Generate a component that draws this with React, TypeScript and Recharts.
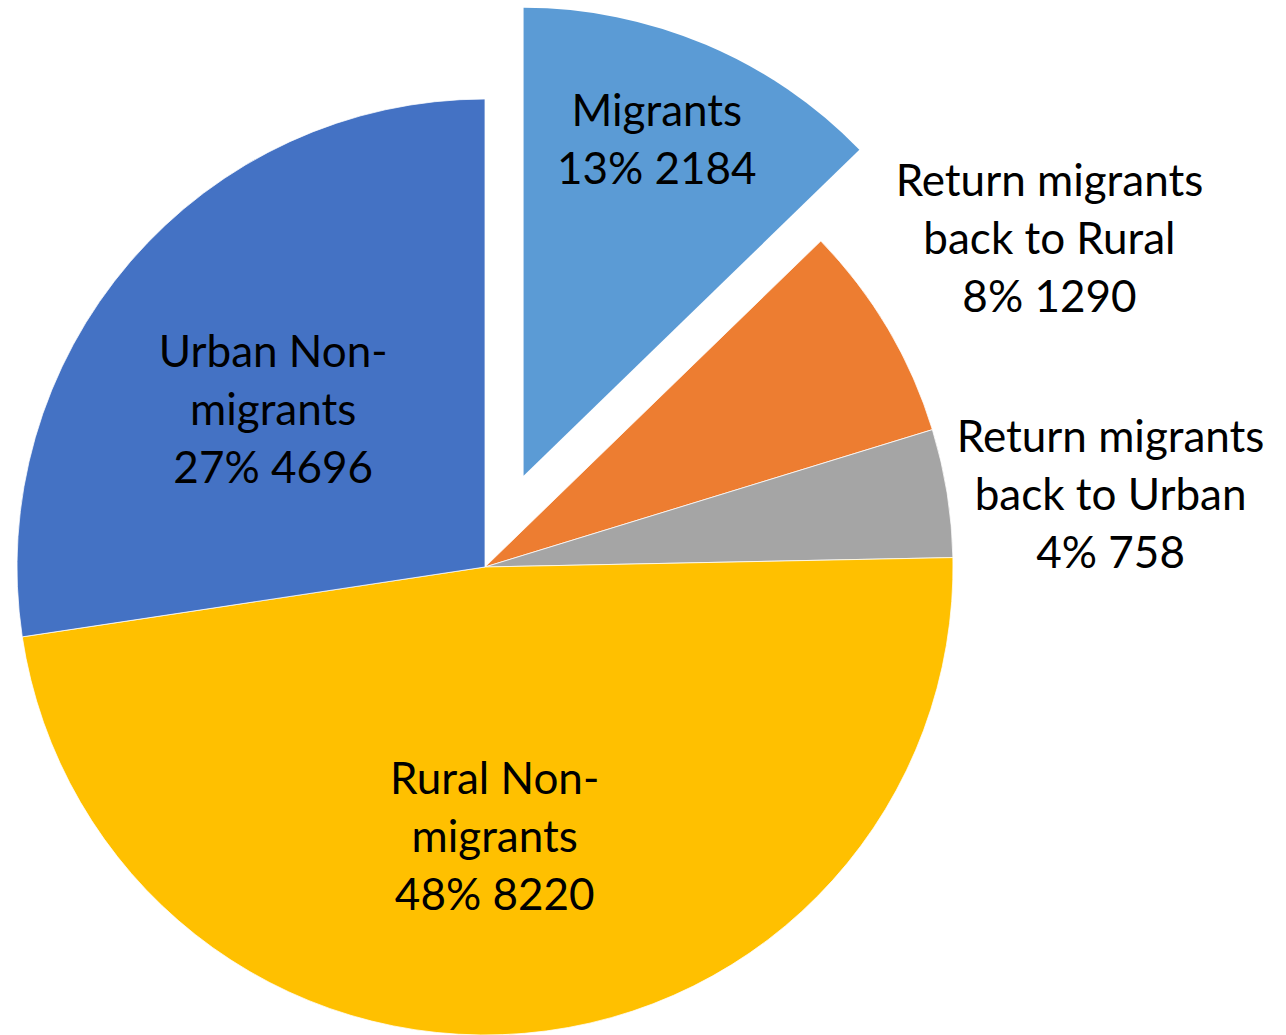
import { PieChart, Pie, Cell } from 'recharts'

const categories = [
  'Migrants',
  'Return migrants\nback to Rural',
  'Return migrants\nback to Urban',
  'Rural Non-\nmigrants',
  'Urban Non-\nmigrants',
]
const counts = [2184, 1290, 758, 8220, 4696]
const colors = ['#5B9BD5', '#ED7D31', '#A5A5A5', '#FFC000', '#4472C4']

// label placement per slice: [radius factor, angle shift in degrees]
const labelPos: [number, number][] = [
  [0.776, 1.4],
  [1.397, -0.3],
  [1.346, -2.4],
  [0.573, -2.8],
  [0.566, 3.8],
]

const W = 1286
const H = 1035
const CX = 485
const CY = 567
const R = 468
const EXPLODE = 99
const FONT = 'Lato, "Noto Sans", sans-serif'
const FS = 44
const LINE = 58
const RADIAN = Math.PI / 180

const total = counts.reduce((a, b) => a + b, 0)
const data = categories.map((name, i) => ({ name, value: counts[i] }))

// midAngle of the exploded slice (first one, starting at 12 o'clock, clockwise)
const explodeMid = 90 - ((counts[0] / total) * 360) / 2
const ex = EXPLODE * Math.cos(explodeMid * RADIAN)
const ey = -EXPLODE * Math.sin(explodeMid * RADIAN)

function renderLabel(props: any) {
  const { cx, cy, midAngle, outerRadius, index, value, name } = props
  const [rf, da] = labelPos[index]
  const a = (midAngle + da) * RADIAN
  const ox = index === 0 ? ex : 0
  const oy = index === 0 ? ey : 0
  const x = cx + ox + outerRadius * rf * Math.cos(a)
  const y = cy + oy - outerRadius * rf * Math.sin(a)
  const pct = Math.round((value / total) * 100)
  const lines = [...String(name).split('\n'), `${pct}% ${value}`]
  const start = y - ((lines.length - 1) * LINE) / 2
  return (
    <text
      key={`lbl-${index}`}
      x={x}
      y={y}
      textAnchor="middle"
      dominantBaseline="central"
      fill="#000"
      fontFamily={FONT}
      fontSize={FS}
    >
      {lines.map((l, j) => (
        <tspan key={j} x={x} y={start + j * LINE}>
          {l}
        </tspan>
      ))}
    </text>
  )
}

export default function App() {
  return (
    <div style={{ position: 'absolute', left: 0, top: 0, width: W, height: H, background: '#fff' }}>
      <PieChart width={W} height={H} margin={{ top: 0, right: 0, bottom: 0, left: 0 }}>
        <Pie
          data={data}
          dataKey="value"
          nameKey="name"
          cx={CX}
          cy={CY}
          outerRadius={R}
          startAngle={90}
          endAngle={-270}
          stroke="#fff"
          strokeWidth={0.75}
          label={renderLabel}
          labelLine={false}
          isAnimationActive={false}
        >
          {data.map((d, i) => (
            <Cell key={d.name} fill={i === 0 ? 'none' : colors[i]} stroke={i === 0 ? 'none' : '#fff'} />
          ))}
        </Pie>
        {/* exploded slice */}
        <Pie
          data={data}
          dataKey="value"
          nameKey="name"
          cx={CX + ex}
          cy={CY + ey}
          outerRadius={R}
          startAngle={90}
          endAngle={-270}
          isAnimationActive={false}
        >
          {data.map((d, i) => (
            <Cell key={d.name} fill={i === 0 ? colors[0] : 'none'} stroke="none" />
          ))}
        </Pie>
      </PieChart>
    </div>
  )
}
